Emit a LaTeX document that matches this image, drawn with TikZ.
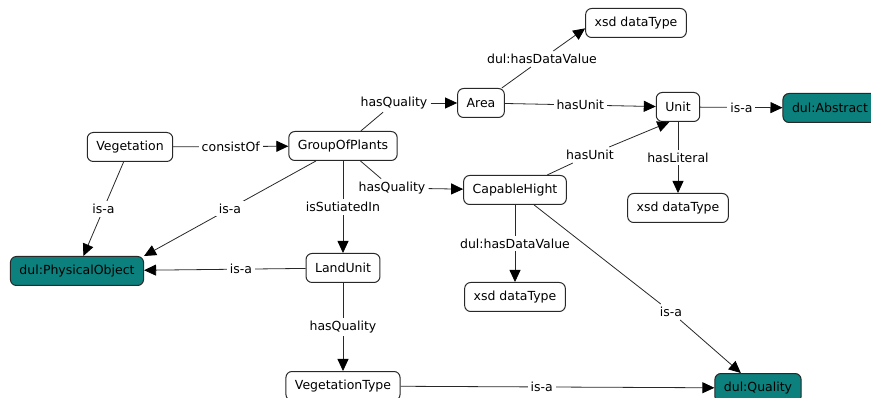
\documentclass[tikz,border=0pt]{standalone}
\usepackage{fontspec}
\setmainfont{DejaVu Sans}
\usepackage{tikz}
\usetikzlibrary{arrows.meta,positioning}
\definecolor{dulteal}{RGB}{12,128,124}
\definecolor{linegray}{RGB}{40,40,40}
\tikzset{
 concept/.style={draw=linegray, line width=1pt, rounded corners=6pt, minimum height=29pt, inner xsep=9pt, fill=white},
 dul/.style={concept, fill=dulteal},
 rel/.style={fill=white, inner sep=3pt},
 link/.style={draw=linegray, line width=0.8pt},
 arr/.style={link, -{Triangle[length=12pt,width=11pt,color=black]}}
}

\begin{document}
\begin{tikzpicture}[x=1pt,y=-1pt,font=\fontsize{12.5}{15}\selectfont]
\useasboundingbox (0,0) rectangle (871,398);
% nodes
 \node[concept] (veg) at (130,147) {Vegetation};%
 \node[concept] (gop) at (343,146) {GroupOfPlants};%
 \node[concept, below=92pt of gop] (land) {LandUnit};%
 \node[concept, below=88pt of land] (vtype) {VegetationType};%
 \node[dul] (phys) at (77,271) {dul:PhysicalObject};%
 \node[concept] (area) at (481,103) {Area};%
 \node[concept] (xsdA) at (636,23) {xsd dataType};%
 \node[concept] (unit) at (678,107) {Unit};%
 \node[dul] (abst) at (830,108) {dul:Abstract};%
 \node[concept, below=71pt of unit] (xsdB) {xsd dataType};%
 \node[concept] (ch) at (515,190) {CapableHight};%
 \node[concept, below=77pt of ch] (xsdC) {xsd dataType};%
 \node[dul] (qual) at (758,388) {dul:Quality};%
% labels that bend the links
 \node[rel] (q1) at (394,103) {hasQuality};
 \node[rel] (q2) at (392,188) {hasQuality};
 \node[rel] (dv1) at (542,59) {dul:hasDataValue};
 \node[rel] (u2) at (590,155) {hasUnit};
 \node[rel] (isa3) at (671,312) {is-a};
% edges
 \draw[arr] (veg) -- node[rel] {consistOf} (gop);
 \draw[arr] (veg) -- node[rel] {is-a} (phys);
 \draw[arr] (gop) -- node[rel] {is-a} (phys.north east);
 \draw[arr] (gop) -- node[rel] {isSutiatedIn} (land);
 \draw[arr] (land) -- node[rel, pos=0.4] {is-a} (phys);
 \draw[arr] (land) -- node[rel] {hasQuality} (vtype);
 \draw[arr] (vtype) -- node[rel, pos=0.45] {is-a} (qual);
 \draw[link] (gop) -- (q1);
 \draw[arr] (q1) -- (area);
 \draw[link] (gop) -- (q2);
 \draw[arr] (q2) -- (ch);
 \draw[link] (area) -- (dv1);
 \draw[arr] (dv1) -- (xsdA.186);
 \draw[arr] (area) -- node[rel] {hasUnit} (unit);
 \draw[arr] (unit) -- node[rel] {is-a} (abst);
 \draw[arr] (unit) -- node[rel] {hasLiteral} (xsdB);
 \draw[link] (ch) -- (u2);
 \draw[arr] (u2) -- (unit.240);
 \draw[arr] (ch) -- node[rel] {dul:hasDataValue} (xsdC);
 \draw[link] (ch) -- (isa3);
 \draw[arr] (isa3) -- (qual);
\end{tikzpicture}
\end{document}
